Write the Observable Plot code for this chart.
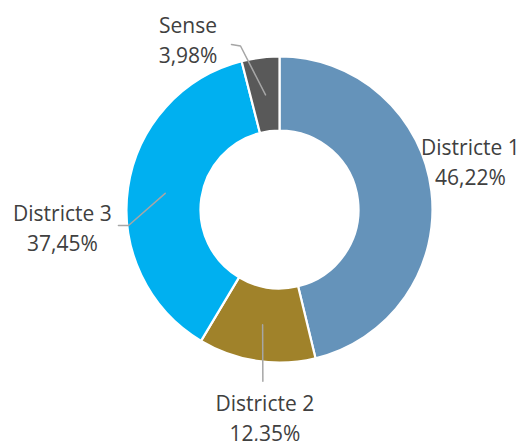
<!DOCTYPE html>
<html>
<head>
<meta charset="utf-8">
<script src="https://cdn.jsdelivr.net/npm/d3@7"></script>
<script src="https://cdn.jsdelivr.net/npm/@observablehq/plot@0.6"></script>
<style>
  html, body { margin: 0; padding: 0; background: #fff; }
  #chart svg { display: block; }
</style>
</head>
<body>
<div id="chart"></div>
<script>
// ---- data ----
const categories = ["Districte 1", "Districte 2", "Districte 3", "Sense"];
const shares = [46.22, 12.35, 37.45, 3.98];          // percent
const shareLabels = ["46,22%", "12,35%", "37,45%", "3,98%"];
const colors = ["#6593ba", "#a0822a", "#00b0f0", "#595959"];

// ---- layout (units of outer radius, centre of the ring = 0,0) ----
const W = 522, H = 441;
const R_PX = 153, CX = 279.5, CY = 209.5;
const INNER = 79 / 153;
// label placement: polar angle (deg, clockwise from top) and radius
const labelAngle = [75.4, 184.2, 265.7, 331.8];
const labelRadius = [1.286, 1.352, 1.426, 1.272];
// leader line extra points (after the slice centroid); null = no leader
const leaderTail = [
  null,
  [[-0.112, -1.12]],
  [[-0.990, -0.101], [-1.056, -0.101]],
  [[-0.258, 1.072], [-0.317, 1.082]]
];

const rad = d => d * Math.PI / 180;
const pie = d3.pie().sort(null).value(d => d.value).startAngle(0).endAngle(2 * Math.PI);
const arcsData = pie(categories.map((c, i) => ({name: c, value: shares[i], color: colors[i], i})));

const labels = arcsData.map(a => ({
  text: a.data.name + "\n" + shareLabels[a.data.i],
  x: Math.sin(rad(labelAngle[a.data.i])) * labelRadius[a.data.i],
  y: Math.cos(rad(labelAngle[a.data.i])) * labelRadius[a.data.i]
}));

const midR = (1 + INNER) / 2;
const leaders = [];
arcsData.forEach(a => {
  const tail = leaderTail[a.data.i];
  if (!tail) return;
  const m = (a.startAngle + a.endAngle) / 2;
  leaders.push({name: a.data.name, x: Math.sin(m) * midR, y: Math.cos(m) * midR});
  tail.forEach(([x, y]) => leaders.push({name: a.data.name, x, y}));
});

function donut(index, scales) {
  const cx = scales.x(0), cy = scales.y(0);
  const R = scales.x(1) - cx;
  const arc = d3.arc().innerRadius(R * INNER).outerRadius(R);
  const g = d3.create("svg:g").attr("transform", `translate(${cx},${cy})`);
  g.selectAll("path").data(arcsData).join("path")
    .attr("d", arc)
    .attr("fill", d => d.data.color)
    .attr("stroke", "#fff")
    .attr("stroke-width", 2.2)
    .attr("stroke-linejoin", "round");
  return g.node();
}

const chart = Plot.plot({
  width: W,
  height: H,
  margin: 0,
  x: {domain: [-CX / R_PX, (W - CX) / R_PX], axis: null},
  y: {domain: [-(H - CY) / R_PX, CY / R_PX], axis: null},
  style: {background: "#fff"},
  marks: [
    donut,
    Plot.line(leaders, {x: "x", y: "y", z: "name", stroke: "#a6a6a6", strokeWidth: 1.5}),
    Plot.text(labels, {
      x: "x", y: "y", text: "text",
      fontSize: 21, lineHeight: 1.43,
      fontFamily: "Open Sans, sans-serif",
      fill: "#404040", textAnchor: "middle"
    })
  ]
});
document.getElementById("chart").appendChild(chart);
</script>
</body>
</html>
